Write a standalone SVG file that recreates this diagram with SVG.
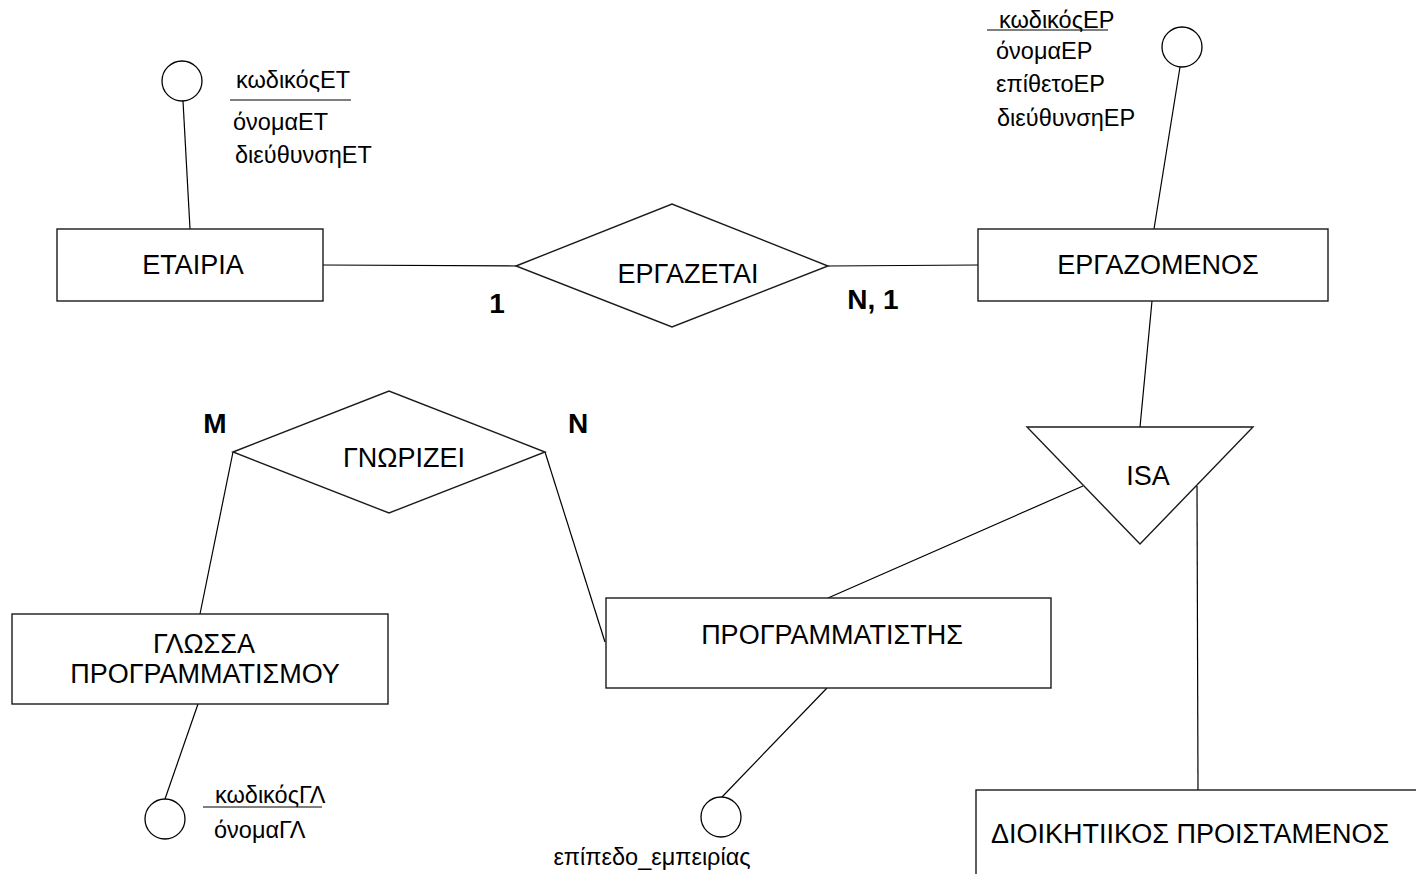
<svg xmlns="http://www.w3.org/2000/svg" width="1416" height="874" viewBox="0 0 1416 874">
  <style>
    .shape { fill: #fff; stroke: #1a1a1a; stroke-width: 1.4; }
    .attr { fill: #fff; stroke: #000; stroke-width: 1.3; }
    .link { stroke: #000; stroke-width: 1.2; fill: none; }
    .label { font-family: "Liberation Sans", Arial, sans-serif; font-size: 27px; fill: #000; text-anchor: middle; }
    .label.left { text-anchor: start; }
    .small { font-family: "Liberation Sans", Arial, sans-serif; font-size: 23.5px; fill: #000; }
    .card { font-family: "Liberation Sans", Arial, sans-serif; font-size: 28px; font-weight: bold; fill: #000; text-anchor: middle; }
  </style>
  <rect width="1416" height="874" fill="#fff"/>

  <!-- connectors -->
  <g id="connectors">
    <line class="link" x1="190" y1="229" x2="183" y2="101"/>
    <line class="link" x1="323" y1="265" x2="516" y2="266"/>
    <line class="link" x1="828" y1="266" x2="978" y2="265"/>
    <line class="link" x1="1154" y1="229" x2="1180" y2="67"/>
    <line class="link" x1="1152" y1="301" x2="1140" y2="427"/>
    <line class="link" x1="1083" y1="486" x2="828" y2="598"/>
    <line class="link" x1="1197" y1="486" x2="1198" y2="790"/>
    <line class="link" x1="233" y1="452" x2="200" y2="614"/>
    <line class="link" x1="545" y1="452" x2="605" y2="642"/>
    <line class="link" x1="198" y1="704" x2="165" y2="799"/>
    <line class="link" x1="827" y1="688" x2="722" y2="797"/>
  </g>

  <!-- ΕΤΑΙΡΙΑ -->
  <g id="etairia">
    <rect class="shape" x="57" y="229" width="266" height="72"/>
    <text class="label" x="193" y="274">ΕΤΑΙΡΙΑ</text>
  </g>
  <g id="etairia-attrs">
    <circle class="attr" cx="182" cy="81" r="20"/>
    <text class="small" x="236" y="88">κωδικόςΕΤ</text>
    <line class="link" x1="230" y1="100" x2="351" y2="100" stroke-width="2"/>
    <text class="small" x="233" y="130">όνομαΕΤ</text>
    <text class="small" x="235" y="163">διεύθυνσηΕΤ</text>
  </g>

  <!-- ΕΡΓΑΖΕΤΑΙ -->
  <g id="ergazetai">
    <polygon class="shape" points="516,266 672,204 828,266 672,327"/>
    <text class="label" x="688" y="283">ΕΡΓΑΖΕΤΑΙ</text>
  </g>
  <text class="card" x="497" y="313">1</text>
  <text class="card" x="873" y="309">N, 1</text>

  <!-- ΕΡΓΑΖΟΜΕΝΟΣ -->
  <g id="ergazomenos">
    <rect class="shape" x="978" y="229" width="350" height="72"/>
    <text class="label" x="1158" y="274">ΕΡΓΑΖΟΜΕΝΟΣ</text>
  </g>
  <g id="ergazomenos-attrs">
    <circle class="attr" cx="1182" cy="47" r="20"/>
    <text class="small" x="999" y="28">κωδικόςΕΡ</text>
    <line class="link" x1="987" y1="30" x2="1108" y2="30" stroke-width="2"/>
    <text class="small" x="996" y="59">όνομαΕΡ</text>
    <text class="small" x="996" y="92">επίθετοΕΡ</text>
    <text class="small" x="997" y="126">διεύθυνσηΕΡ</text>
  </g>

  <!-- ISA -->
  <g id="isa">
    <polygon class="shape" points="1027,427 1253,427 1140,544"/>
    <text class="label" x="1148" y="485">ISA</text>
  </g>

  <!-- ΓΝΩΡΙΖΕΙ -->
  <g id="gnorizei">
    <polygon class="shape" points="233,452 389,391 545,452 389,513"/>
    <text class="label" x="404" y="467">ΓΝΩΡΙΖΕΙ</text>
  </g>
  <text class="card" x="215" y="433">M</text>
  <text class="card" x="578" y="433">N</text>

  <!-- ΓΛΩΣΣΑ ΠΡΟΓΡΑΜΜΑΤΙΣΜΟΥ -->
  <g id="glossa">
    <rect class="shape" x="12" y="614" width="376" height="90"/>
    <text class="label" x="204" y="653">ΓΛΩΣΣΑ</text>
    <text class="label" x="205" y="683">ΠΡΟΓΡΑΜΜΑΤΙΣΜΟΥ</text>
  </g>
  <g id="glossa-attrs">
    <circle class="attr" cx="165" cy="819" r="20"/>
    <text class="small" x="215" y="803">κωδικόςΓΛ</text>
    <line class="link" x1="203" y1="807" x2="322" y2="807" stroke-width="2"/>
    <text class="small" x="214" y="838">όνομαΓΛ</text>
  </g>

  <!-- ΠΡΟΓΡΑΜΜΑΤΙΣΤΗΣ -->
  <g id="programmatistis">
    <rect class="shape" x="606" y="598" width="445" height="90"/>
    <text class="label" x="832" y="644">ΠΡΟΓΡΑΜΜΑΤΙΣΤΗΣ</text>
  </g>
  <g id="programmatistis-attrs">
    <circle class="attr" cx="721" cy="817" r="20"/>
    <text class="small" x="652" y="865" text-anchor="middle">επίπεδο_εμπειρίας</text>
  </g>

  <!-- ΔΙΟΙΚΗΤΙΚΟΣ ΠΡΟΙΣΤΑΜΕΝΟΣ -->
  <g id="dioikitikos">
    <rect class="shape" x="976" y="790" width="460" height="120"/>
    <text class="label left" x="991" y="843">ΔΙΟΙΚΗΤΙΙΚΟΣ ΠΡΟΙΣΤΑΜΕΝΟΣ</text>
  </g>
</svg>
